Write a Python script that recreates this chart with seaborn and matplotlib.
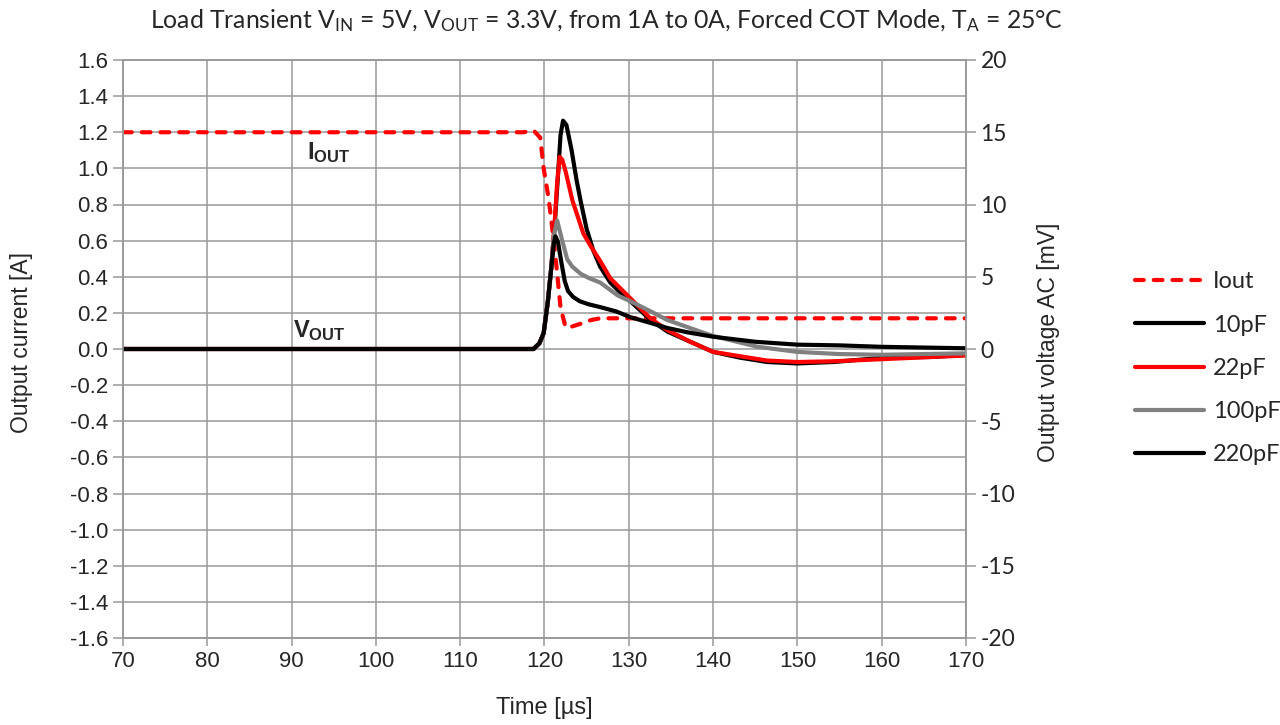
import matplotlib
matplotlib.use("Agg")
import matplotlib.pyplot as plt
from matplotlib.lines import Line2D
import seaborn as sns

# load current step (left axis, A)
t_iout = [70, 117.5, 118.7, 119.5, 119.9, 120.5, 121.1, 121.5, 121.9, 122.5, 123.3, 124.3, 125.5, 126.6, 170]
i_out = [1.2, 1.2, 1.21, 1.17, 1.0, 0.83, 0.6, 0.42, 0.23, 0.12, 0.125, 0.14, 0.16, 0.17, 0.17]

# output voltage AC (right axis, mV) for each feed-forward cap
t_10p = [70, 118.7, 119.4, 119.9, 120.4, 120.8, 121.2, 121.6, 121.9, 122.2, 122.6, 123.2, 123.8, 124.3,
         125.0, 125.8, 126.6, 127.8, 129.0, 130.2, 132.6, 134.6, 137.3, 140, 143.2, 146.4, 150, 154.3,
         160.2, 166, 170]
v_10p = [0, 0, 0.4, 1.1, 3.3, 5.6, 8.5, 12.0, 14.8, 15.8, 15.5, 13.8, 11.7, 10.2,
         8.3, 6.8, 5.7, 4.6, 3.9, 3.3, 2.0, 1.2, 0.5, -0.2, -0.6, -0.9, -1.0, -0.9,
         -0.6, -0.55, -0.4]

t_22p = [70, 118.7, 119.4, 119.9, 120.4, 120.8, 121.2, 121.5, 121.8, 122.1, 122.5, 123.3, 124.6, 125.5,
         126.6, 127.8, 130.2, 132.6, 134.6, 137.3, 140, 143.2, 146.4, 150, 154.3, 160.2, 166, 170]
v_22p = [0, 0, 0.4, 1.1, 3.3, 5.6, 8.7, 11.5, 13.3, 13.1, 12.3, 10.3, 8.0, 7.1,
         6.1, 4.9, 3.5, 2.1, 1.3, 0.5, -0.2, -0.5, -0.8, -0.9, -0.85, -0.7, -0.55, -0.45]

t_100p = [70, 118.7, 119.4, 119.9, 120.4, 120.8, 121.1, 121.5, 122.1, 122.7, 123.3, 124.3, 125.3,
          126.6, 128.7, 130.2, 132.6, 134.6, 138.5, 140, 145.3, 150, 155, 160, 165, 170]
v_100p = [0, 0, 0.4, 1.1, 3.3, 5.6, 7.8, 8.9, 7.5, 6.2, 5.7, 5.2, 4.9,
          4.6, 3.7, 3.3, 2.6, 2.0, 1.2, 0.9, 0.15, -0.2, -0.35, -0.4, -0.35, -0.3]

t_220p = [70, 118.7, 119.4, 119.9, 120.4, 120.8, 121.1, 121.3, 121.6, 122.0, 122.4, 122.8, 123.4, 124.2,
          125.2, 126.6, 128.5, 130.2, 132.6, 134.6, 137.0, 140, 145, 150, 155, 160, 165, 170]
v_220p = [0, 0, 0.4, 1.1, 3.3, 5.6, 7.3, 7.8, 7.4, 6.0, 4.7, 4.0, 3.6, 3.3,
          3.1, 2.9, 2.6, 2.2, 1.8, 1.45, 1.15, 0.85, 0.5, 0.3, 0.25, 0.15, 0.1, 0.05]

series_names = ["10pF", "22pF", "100pF", "220pF"]
series_colors = ["#000000", "#ff0000", "#808080", "#000000"]

sns.set_style("white")
plt.rcParams["font.family"] = ["Liberation Sans", "DejaVu Sans"]
plt.rcParams["axes.unicode_minus"] = False
plt.rcParams["mathtext.fontset"] = "custom"
plt.rcParams["mathtext.rm"] = "Lato"

grid_c = "#999999"
lw = 3.0

fig = plt.figure(figsize=(12.8, 7.25), dpi=100)
ax = fig.add_axes([123 / 1280, 1 - 638 / 725, (966 - 123) / 1280, (638 - 60) / 725])
ax2 = ax.twinx()

sns.lineplot(x=t_iout, y=i_out, ax=ax, color="#ff0000", lw=lw,
             linestyle=(0, (2.1, 2.4)), dash_capstyle="round", solid_joinstyle="round")

vdata = [(t_10p, v_10p), (t_22p, v_22p), (t_100p, v_100p), (t_220p, v_220p)]
for (tt, vv), name, c in zip(vdata, series_names, series_colors):
    sns.lineplot(x=tt, y=vv, ax=ax2, color=c, lw=lw,
                 solid_capstyle="round", solid_joinstyle="round")

ax.set_xlim(70, 170)
ax.set_ylim(-1.6, 1.6)
ax2.set_ylim(-20, 20)
ax.set_xticks(range(70, 171, 10))
ax.set_yticks([i / 10 for i in range(-16, 17, 2)])
ax.set_yticklabels([f"{i / 10:.1f}" for i in range(-16, 17, 2)])
ax2.set_yticks(range(-20, 21, 5))

ax.grid(True, color=grid_c, lw=1.1)
ax2.grid(False)
for a in (ax, ax2):
    for s in a.spines.values():
        s.set_color(grid_c)
        s.set_linewidth(1.1)
ax.tick_params(axis="both", direction="out", length=6, width=1.1, color=grid_c,
               labelsize=16, left=True, bottom=True)
ax.tick_params(axis="y", length=7)
ax2.tick_params(axis="y", direction="out", length=7, width=1.1, color=grid_c, right=True)
for lab in ax2.get_yticklabels():
    lab.set_family("Lato")
    lab.set_fontsize(16.5)

ax.set_xlabel("Time [µs]", fontsize=17)
ax.xaxis.set_label_coords(0.5, -0.102)
ax.set_ylabel("Output current [A]", fontsize=16.5)
ax.yaxis.set_label_coords(-0.107, 0.512)
ax2.set_ylabel("Output voltage AC [mV]", fontsize=16.5)
ax2.yaxis.set_label_coords(1.084, 0.512)

fig.text(0.474, 0.972, r"Load Transient V$\mathregular{_{IN}}$ = 5V, V$\mathregular{_{OUT}}$ = 3.3V, "
         r"from 1A to 0A, Forced COT Mode, T$\mathregular{_{A}}$ = 25°C",
         ha="center", va="center", fontsize=17.8, family="Lato")

ax.text(91.8, 1.09, r"I$\mathregular{_{OUT}}$", fontsize=17, fontweight="bold", ha="left", va="center")
ax.text(90.2, 0.10, r"V$\mathregular{_{OUT}}$", fontsize=17, fontweight="bold", ha="left", va="center")

handles = [Line2D([], [], color="#ff0000", lw=lw, linestyle=(0, (2.1, 2.4)), dash_capstyle="round")]
handles += [Line2D([], [], color=c, lw=lw, solid_capstyle="round") for c in series_colors]
labels = ["Iout"] + series_names
fig.legend(handles, labels, loc="center left", bbox_to_anchor=(0.887, 0.492), frameon=False,
           prop={"family": "Lato", "size": 17}, handlelength=2.9, handletextpad=0.4,
           labelspacing=0.94, borderpad=0, borderaxespad=0)

fig.savefig("out.png", dpi=100)
